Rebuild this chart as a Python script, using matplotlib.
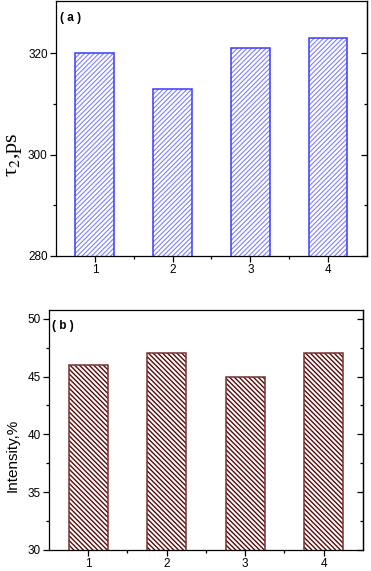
import matplotlib
matplotlib.use("Agg")
import matplotlib.pyplot as plt

# data
samples = [1, 2, 3, 4]
tau2 = [320, 313, 321, 323]
intensity = [46, 47, 45, 47]

plt.rcParams['font.family'] = ['Liberation Sans', 'DejaVu Sans']
plt.rcParams['mathtext.fontset'] = 'stix'

fig = plt.figure(figsize=(3.71, 5.71), dpi=100)


def hatched_bars(ax, x, y, hatch, hatch_col, edge_col, hlw):
    # hatch layer first, then the outline on top
    plt.rcParams['hatch.linewidth'] = hlw
    ax.bar(x, y, width=0.5, color='white', edgecolor=hatch_col,
           hatch=hatch, linewidth=0)
    ax.bar(x, y, width=0.5, fill=False, edgecolor=edge_col, linewidth=1.1)


def style_axes(ax, yticks, yminor):
    ax.set_xlim(0.5, 4.5)
    ax.set_xticks(samples)
    ax.set_xticks([1.5, 2.5, 3.5], minor=True)
    ax.set_yticks(yticks)
    ax.set_yticks(yminor, minor=True)
    ax.tick_params(axis='both', which='major', labelsize=8.5, length=4,
                   width=0.9, direction='out', pad=2)
    ax.tick_params(axis='both', which='minor', length=2, width=0.9,
                   direction='out')
    for s in ax.spines.values():
        s.set_linewidth(0.9)
    # right side ticks point inwards
    sec = ax.secondary_yaxis('right')
    sec.set_yticks(yticks)
    sec.set_yticks(yminor, minor=True)
    sec.tick_params(which='major', direction='in', length=4, width=0.9,
                    labelright=False)
    sec.tick_params(which='minor', direction='in', length=2, width=0.9)
    sec.spines['right'].set_linewidth(0.9)


# -----------------------------
# (a) tau2
# -----------------------------
ax1 = fig.add_axes([0.151, 0.552, 0.838, 0.446])
hatched_bars(ax1, samples, tau2, '/' * 7, '#8080ff', '#3a3aff', 0.8)
ax1.set_ylim(280, 330.3)
style_axes(ax1, [280, 300, 320], [290, 310])
ax1.set_ylabel("τ$_2$,ps", family='Liberation Serif', fontsize=16)
ax1.yaxis.set_label_coords(-0.103, 0.395)
ax1.text(0.012, 0.958, "( a )", transform=ax1.transAxes, fontsize=8.5,
         fontweight='bold', va='top', ha='left')

# -----------------------------
# (b) intensity
# -----------------------------
ax2 = fig.add_axes([0.132, 0.037, 0.846, 0.420])
hatched_bars(ax2, samples, intensity, '\\' * 7, '#5a0a0a', '#7a3030', 1.0)
ax2.set_ylim(30, 50.75)
style_axes(ax2, [30, 35, 40, 45, 50], [32.5, 37.5, 42.5, 47.5])
ax2.set_ylabel("Intensity,%", fontsize=11)
ax2.yaxis.set_label_coords(-0.095, 0.395)
ax2.text(0.01, 0.958, "( b )", transform=ax2.transAxes, fontsize=8.5,
         fontweight='bold', va='top', ha='left')

fig.savefig("out.png", dpi=100)
